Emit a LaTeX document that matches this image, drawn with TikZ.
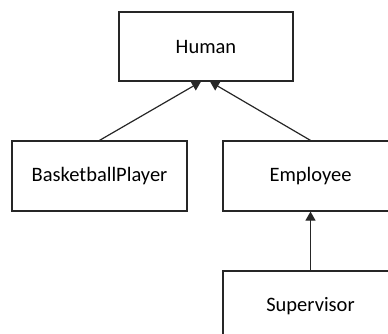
\documentclass[tikz,border=0pt]{standalone}
\usepackage{fontspec}
\setmainfont{Carlito}
\usepackage{tikz}
\usetikzlibrary{arrows.meta,calc}

\tikzset{
  clase/.style={draw=black!85,line width=1.2pt,minimum width=175pt,minimum height=70pt,
    inner sep=0pt,font=\fontsize{20.5}{24}\selectfont},
  hereda/.style={draw=black!85,line width=1.2pt,-{Triangle[length=9pt,width=10pt]}}
}

\begin{document}
\begin{tikzpicture}[x=1pt,y=-1pt]
  \useasboundingbox (0,0) rectangle (388,334);
  \clip (0,0) rectangle (388,334);

  \node[clase,minimum width=174pt,minimum height=69pt] (human) at (206,46.5) {Human};
  \node[clase] (basket) at (99.5,176) {BasketballPlayer};
  \node[clase] (employee) at (310.5,176) {Employee};
  \node[clase] (supervisor) at (310.5,306) {Supervisor};

  \draw[hereda] (basket.north) -- ([xshift=-5pt]human.south);
  \draw[hereda] (employee.north) -- ([xshift=4pt]human.south);
  \draw[hereda] (supervisor.north) -- (employee.south);
\end{tikzpicture}
\end{document}
